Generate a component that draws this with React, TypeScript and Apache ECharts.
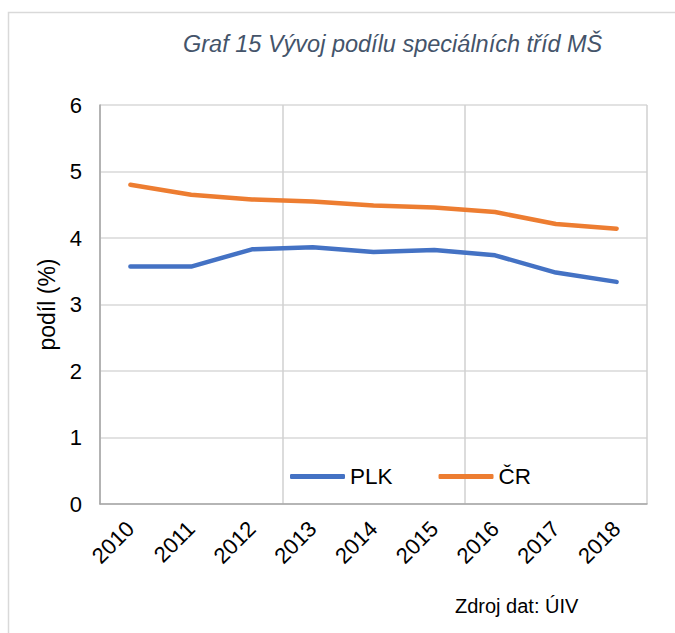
import React, { useEffect, useRef } from "react";
import * as echarts from "echarts";

const years = ["2010", "2011", "2012", "2013", "2014", "2015", "2016", "2017", "2018"];
const plk = [3.57, 3.57, 3.83, 3.86, 3.79, 3.82, 3.74, 3.48, 3.34];
const cr = [4.8, 4.65, 4.58, 4.55, 4.49, 4.46, 4.39, 4.21, 4.14];
const seriesNames = ["PLK", "ČR"];
const titleText = "Graf 15 Vývoj podílu speciálních tříd MŠ";
const sourceText = "Zdroj dat: ÚIV";
const yAxisName = "podíl (%)";

const FONT = "'Liberation Sans', Arial, sans-serif";

export default function App() {
  const ref = useRef<HTMLDivElement>(null);
  useEffect(() => {
    if (!ref.current) return;
    const chart = echarts.init(ref.current, null, { renderer: "svg" });
    chart.setOption({
      animation: false,
      backgroundColor: "#ffffff",
      title: {
        text: titleText,
        left: 178,
        top: 27,
        textStyle: {
          fontFamily: FONT,
          fontSize: 23.5,
          fontStyle: "italic",
          fontWeight: "normal",
          color: "#44546A",
        },
      },
      graphic: [
        {
          type: "rect",
          shape: { x: 8.5, y: 12.5, width: 700, height: 700 },
          style: { fill: "none", stroke: "#d9d9d9", lineWidth: 1.5 },
          silent: true,
        },
        {
          type: "text",
          left: 455,
          top: 596,
          style: { text: sourceText, fontFamily: FONT, fontSize: 20, fill: "#000" },
        },
      ],
      legend: {
        left: 290,
        top: 465,
        padding: 0,
        itemWidth: 55,
        itemHeight: 5,
        itemGap: 46,
        icon: "roundRect",
        data: seriesNames,
        textStyle: { fontFamily: FONT, fontSize: 22.5, color: "#000" },
      },
      grid: { left: 100, top: 105, right: 28, bottom: 129 },
      xAxis: {
        type: "category",
        data: years,
        boundaryGap: true,
        axisLine: { lineStyle: { color: "#a6a6a6", width: 1.5 } },
        axisTick: { show: false },
        axisLabel: {
          rotate: 45,
          margin: 21,
          fontFamily: FONT,
          fontSize: 22,
          color: "#000",
        },
        splitLine: {
          show: true,
          interval: (i: number) => i % 3 === 0,
          lineStyle: { color: "#d0d0d0", width: 1.5 },
        },
      },
      yAxis: {
        type: "value",
        min: 0,
        max: 6,
        interval: 1,
        name: yAxisName,
        nameLocation: "middle",
        nameGap: 42,
        nameRotate: 90,
        nameTextStyle: { fontFamily: FONT, fontSize: 23, color: "#000" },
        axisLine: { show: true, lineStyle: { color: "#a6a6a6", width: 1.5 } },
        axisTick: { show: false },
        axisLabel: { margin: 18, fontFamily: FONT, fontSize: 22, color: "#000" },
        splitLine: { lineStyle: { color: "#d9d9d9", width: 1.5 } },
      },
      series: [
        {
          name: seriesNames[0],
          type: "line",
          data: plk,
          symbol: "none",
          lineStyle: { color: "#4472C4", width: 4.5, cap: "round", join: "round" },
          itemStyle: { color: "#4472C4" },
        },
        {
          name: seriesNames[1],
          type: "line",
          data: cr,
          symbol: "none",
          lineStyle: { color: "#ED7D31", width: 4.5, cap: "round", join: "round" },
          itemStyle: { color: "#ED7D31" },
        },
      ],
    });
    return () => chart.dispose();
  }, []);
  return (
    <div
      ref={ref}
      style={{ position: "fixed", left: 0, top: 0, width: 675, height: 633 }}
    />
  );
}
